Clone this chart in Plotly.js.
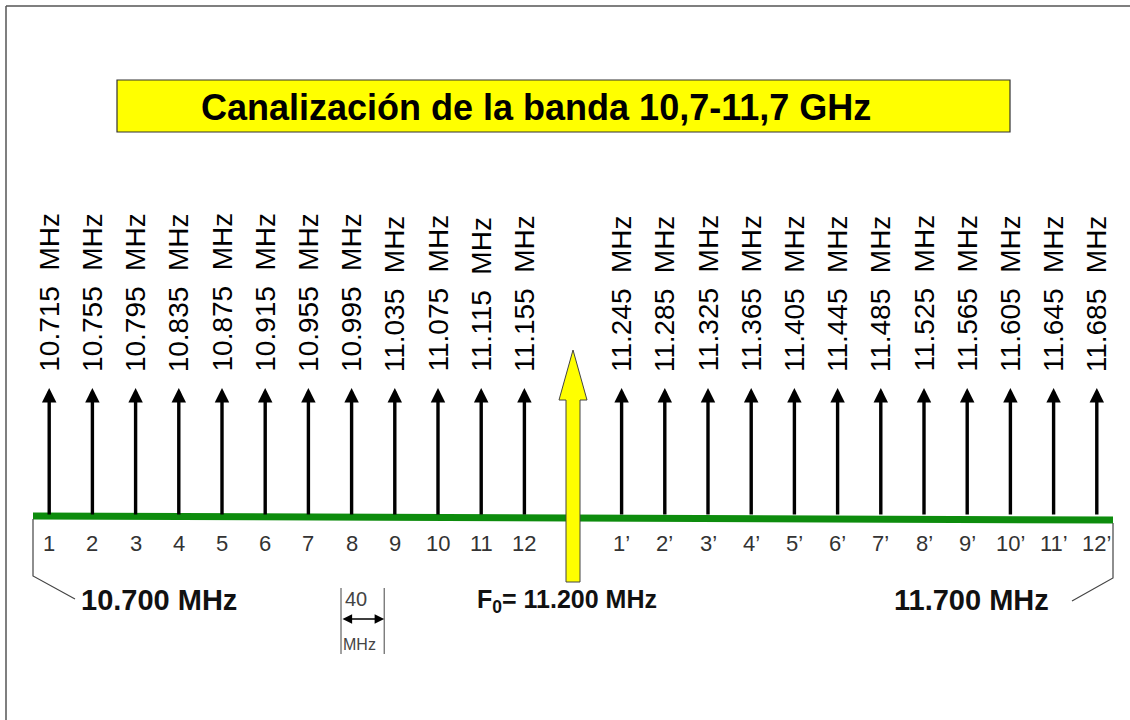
<!DOCTYPE html>
<html>
<head>
<meta charset="utf-8">
<script src="https://cdn.plot.ly/plotly-3.0.1.min.js"></script>
<style>html,body{margin:0;padding:0;background:#fff}#chart{width:1130px;height:720px}</style>
</head>
<body>
<div id="chart"></div>
<script>
// ---- data ----
const chartTitle = "Canalización de la banda 10,7-11,7 GHz";
const channelsLow = ["1","2","3","4","5","6","7","8","9","10","11","12"];
const channelsHigh = ["1’","2’","3’","4’","5’","6’","7’","8’","9’","10’","11’","12’"];
const freqLow = [10715,10755,10795,10835,10875,10915,10955,10995,11035,11075,11115,11155]; // MHz
const freqHigh = [11245,11285,11325,11365,11405,11445,11485,11525,11565,11605,11645,11685]; // MHz
const freqLabelsLow = ["10.715","10.755","10.795","10.835","10.875","10.915","10.955","10.995","11.035","11.075","11.115","11.155"];
const freqLabelsHigh = ["11.245","11.285","11.325","11.365","11.405","11.445","11.485","11.525","11.565","11.605","11.645","11.685"];
const bandEdges = [10700, 11700];           // MHz
const bandEdgeLabels = ["10.700 MHz", "11.700 MHz"];
const centerFreq = 11200;                   // MHz
const centerLabel = "F<sub>0</sub>= 11.200 MHz";
const channelSpacing = 40;                  // MHz

// ---- layout geometry (pixel frame) ----
const W = 1130, H = 720;
const pxPerMHz = 1.08;
const centerPx = 573;
const xMin = centerFreq - centerPx / pxPerMHz;
const xMax = xMin + W / pxPerMHz;
const pxToX = p => xMin + p / pxPerMHz;
const dX = p => p / pxPerMHz;

const FONT = "Liberation Sans, Arial, sans-serif";
const baseY = 515, headY = 388, labelBottomY = 374, numY = 543;

const freqs = freqLow.concat(freqHigh);
const freqLabels = freqLabelsLow.concat(freqLabelsHigh);
const channels = channelsLow.concat(channelsHigh);

const annotations = [];
const shapes = [];

// title
annotations.push({xref:'paper', yref:'y', x:536/W, y:107, text:'<b>'+chartTitle+'</b>', showarrow:false,
  xanchor:'center', yanchor:'middle', font:{family:FONT, size:36, color:'#000'}});
shapes.push({type:'rect', xref:'paper', yref:'y', x0:117/W, x1:1010/W, y0:80, y1:132,
  fillcolor:'#ffff00', line:{color:'#333', width:1.2}, layer:'below'});

// frame
shapes.push({type:'line', xref:'paper', yref:'paper', x0:6/W, x1:6/W, y0:1-6/H, y1:-0.02, line:{color:'#555', width:1.5}});
shapes.push({type:'line', xref:'paper', yref:'paper', x0:6/W, x1:1.02, y0:1-6/H, y1:1-6/H, line:{color:'#555', width:1.5}});

// channel arrows, frequency labels, channel numbers
freqs.forEach((f, i) => {
  annotations.push({x:f, y:headY, ax:f, ay:baseY+1, xref:'x', yref:'y', axref:'x', ayref:'y',
    text:'', showarrow:true, arrowhead:2, arrowsize:0.85, arrowwidth:3.4, arrowcolor:'#000', standoff:0});
  annotations.push({x:f, y:labelBottomY, xref:'x', yref:'y', text:freqLabels[i] + '\u00a0\u00a0MHz',
    textangle:-90, showarrow:false, xanchor:'center', yanchor:'bottom',
    font:{family:FONT, size:28, color:'#000'}});
  annotations.push({x:f, y:numY, xref:'x', yref:'y', text:channels[i], showarrow:false,
    xanchor:'center', yanchor:'middle', font:{family:FONT, size:22, color:'#333'}});
});

// brackets to band edges
shapes.push({type:'path', xref:'x', yref:'y', line:{color:'#444', width:1.2},
  path:`M${bandEdges[0]},519 L${bandEdges[0]},576 L${pxToX(75)},599`});
shapes.push({type:'path', xref:'x', yref:'y', line:{color:'#444', width:1.2},
  path:`M${bandEdges[1]},523 L${bandEdges[1]},578 L${pxToX(1072)},601`});
annotations.push({x:pxToX(79), y:600, xref:'x', yref:'y', text:'<b>'+bandEdgeLabels[0]+'</b>', showarrow:false,
  xanchor:'left', yanchor:'middle', font:{family:FONT, size:29, color:'#111'}});
annotations.push({x:pxToX(1051), y:600, xref:'x', yref:'y', text:'<b>'+bandEdgeLabels[1]+'</b>', showarrow:false,
  xanchor:'right', yanchor:'middle', font:{family:FONT, size:29, color:'#111'}});

// center frequency yellow arrow
const sh = dX(7), hh = dX(14);
shapes.push({type:'path', xref:'x', yref:'y', fillcolor:'#ffff00', line:{color:'#444', width:1},
  path:`M${centerFreq-sh},582 L${centerFreq-sh},400 L${centerFreq-hh},400 L${centerFreq},350 L${centerFreq+hh},400 L${centerFreq+sh},400 L${centerFreq+sh},582 Z`});
annotations.push({x:pxToX(567), y:601, xref:'x', yref:'y', text:'<b>'+centerLabel+'</b>', showarrow:false,
  xanchor:'center', yanchor:'middle', font:{family:FONT, size:25, color:'#111'}});

// 40 MHz spacing indicator
const s0 = pxToX(341), s1 = s0 + channelSpacing;
[s0, s1].forEach(x => shapes.push({type:'line', xref:'x', yref:'y', x0:x, x1:x, y0:588, y1:654, line:{color:'#444', width:1}}));
annotations.push({x:s1, y:619, ax:s0, ay:619, xref:'x', yref:'y', axref:'x', ayref:'y', text:'', showarrow:true,
  arrowside:'end+start', arrowhead:2, arrowsize:1.2, arrowwidth:1.6, arrowcolor:'#000', standoff:0, startstandoff:0});
annotations.push({x:s0+dX(2), y:599, xref:'x', yref:'y', text:String(channelSpacing), showarrow:false,
  xanchor:'left', yanchor:'middle', font:{family:FONT, size:20, color:'#444'}});
annotations.push({x:s0, y:644, xref:'x', yref:'y', text:'MHz', showarrow:false,
  xanchor:'left', yanchor:'middle', font:{family:FONT, size:16, color:'#444'}});

// green band line
const traces = [{
  type:'scatter', mode:'lines', x:bandEdges, y:[516, 520],
  line:{color:'#0d8c0d', width:7}, hoverinfo:'skip'
}];

const layout = {
  width:W, height:H, margin:{l:0, r:0, t:0, b:0},
  paper_bgcolor:'#fff', plot_bgcolor:'#fff', showlegend:false,
  xaxis:{range:[xMin, xMax], visible:false, fixedrange:true},
  yaxis:{range:[H, 0], visible:false, fixedrange:true},
  shapes, annotations
};
Plotly.newPlot('chart', traces, layout, {displayModeBar:false, staticPlot:true});
</script>
</body>
</html>
